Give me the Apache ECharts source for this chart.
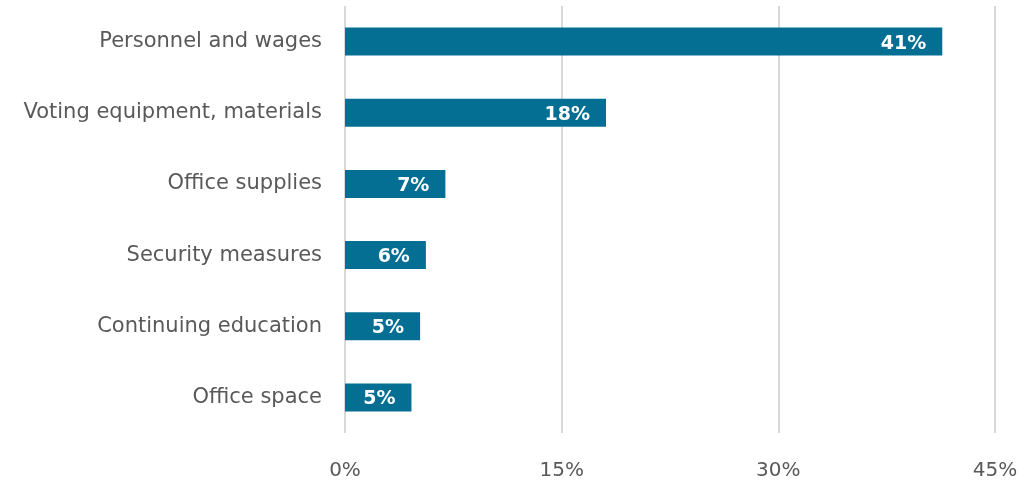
<!DOCTYPE html>
<html>
<head>
<meta charset="utf-8">
<script src="https://cdn.jsdelivr.net/npm/echarts@6/dist/echarts.min.js"></script>
<style>html,body{margin:0;padding:0;background:#fff}#c{width:1033px;height:482px}</style>
</head>
<body>
<div id="c"></div>
<script>
const categories = ["Personnel and wages", "Voting equipment, materials", "Office supplies", "Security measures", "Continuing education", "Office space"];
const values = [41.35, 18.07, 6.95, 5.6, 5.2, 4.6];
const xTicks = [0, 15, 30, 45];

const chart = echarts.init(document.getElementById('c'));
chart.setOption({
  animation: false,
  grid: { left: 345, right: 38, top: 6, bottom: 49, containLabel: false },
  xAxis: {
    type: 'value', min: xTicks[0], max: xTicks[xTicks.length - 1], interval: xTicks[1] - xTicks[0],
    axisLine: { show: false }, axisTick: { show: false },
    splitLine: { lineStyle: { color: '#d9d9d9', width: 2 } },
    axisLabel: { formatter: '{value}%', color: '#595959', fontSize: 20, fontFamily: 'DejaVu Sans', margin: 28 }
  },
  yAxis: {
    type: 'category', data: categories, inverse: true,
    axisLine: { show: false }, axisTick: { show: false },
    axisLabel: { color: '#595959', fontSize: 21, fontFamily: 'DejaVu Sans', margin: 23 }
  },
  series: [{
    type: 'bar', data: values, barWidth: 28,
    itemStyle: { color: '#046F93' },
    label: {
      show: true, position: 'insideRight', distance: 16, offset: [0, 2],
      formatter: p => Math.round(p.value) + '%',
      color: '#fff', fontWeight: 'bold', fontSize: 19, fontFamily: 'DejaVu Sans'
    }
  }]
});
</script>
</body>
</html>
